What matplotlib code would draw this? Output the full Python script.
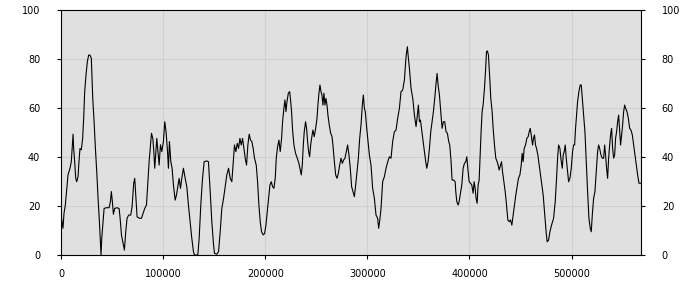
import matplotlib
matplotlib.use('Agg')
import matplotlib.pyplot as plt
import numpy as np

# x positions in thousands
x_k = [0, 1.96, 2.94, 4.25, 5.88, 6.86, 8.82, 10.1, 11.1, 11.8, 12.4, 13.4, 14.4, 15.4, 16.7, 17.6, 18.6,
       19.9, 21.2, 22.2, 23.2, 24.5, 25.8, 27.1, 28.4, 29.7, 31.1, 32.4, 33.7, 35.0, 36.3, 37.6, 38.6, 39.2,
       39.9, 40.9, 42.2, 44.4, 47.1, 48.4, 49.3, 50.3, 51.3, 52.6, 54.6, 56.9, 57.9, 59.2, 60.8, 62.1, 63.4,
       64.7, 66.3, 68.3, 69.6, 71.2, 72.2, 73.2, 74.5, 76.8, 78.8, 80.4, 82.0, 83.7, 85.0, 86.3, 87.6, 88.6,
       89.9, 90.9, 91.8, 93.8,
       96.1, 97.4, 98.7, 100.3, 101.6, 102.9, 104.3, 105.2, 106.2, 107.5, 108.8, 110.1, 111.8, 113.1, 114.4,
       115.7, 117.0, 118.3, 119.9, 121.6, 123.2, 124.8, 126.5, 128.1, 129.7, 130.7, 134.0, 135.3, 136.9,
       138.6, 140.2, 142.8, 144.4, 146.1, 147.7, 149.4, 150.3, 152.6, 154.3, 155.9, 157.5, 159.2, 160.8,
       162.4, 164.1, 165.7, 167.3, 169.0, 169.9, 171.3, 172.6, 173.9, 175.2, 176.5, 177.8, 179.1, 180.4,
       181.7, 183.0, 184.3, 185.6, 186.9, 188.2, 189.5,
       191.2, 192.5, 193.8, 195.1, 196.4, 198.0, 199.4, 200.7, 202.0, 203.3, 204.6, 205.9, 207.2, 208.5,
       209.8, 210.8, 212.1, 213.4, 214.7, 216.0, 217.0, 218.3, 219.3, 220.3, 221.3, 222.6, 223.9, 224.8,
       225.8, 226.8, 228.1, 229.7, 231.4, 233.0, 234.3, 235.3, 236.3, 237.3, 238.2, 239.5, 240.5, 241.5,
       242.5, 243.5, 244.5, 245.4, 246.7, 248.0, 249.4, 250.7, 251.6, 252.6, 253.6, 254.6, 255.6, 256.5,
       257.5, 258.5, 259.5, 260.5, 261.4, 262.7, 264.1, 265.4, 266.3, 267.7, 269.0, 270.3, 271.6, 272.9,
       274.2, 275.5, 276.8, 278.1, 279.4, 280.7, 282.0, 283.3, 284.6,
       287.3, 288.6, 289.9, 291.2, 292.5, 293.8, 295.1, 296.1, 297.1, 298.0, 299.4, 300.7, 302.0, 303.6,
       305.2, 306.9, 308.5, 310.1, 311.1, 312.4, 313.4, 315.0, 316.7, 318.3, 320.0, 321.6, 323.2, 324.8,
       326.5, 328.1, 329.7, 331.4, 333.0, 334.6, 336.3, 337.9, 339.2, 340.2, 341.2, 342.8, 344.5, 346.1,
       347.7, 349.0, 350.0, 351.0, 352.0, 353.0, 354.3, 355.9, 357.2, 358.2, 359.5, 360.8, 362.1, 363.4,
       364.7, 366.0, 367.3, 368.3, 369.3, 370.6, 371.9, 373.2, 374.5, 375.8, 377.1, 378.4, 379.7,
       380.7, 382.0, 383.0, 384.6, 386.0, 386.6, 387.6, 388.9, 389.9, 391.2, 392.5, 393.8, 395.1, 396.4,
       397.4, 398.4, 399.7, 401.0, 402.3, 403.6, 404.6, 405.6, 406.5, 407.5, 408.5, 409.5, 410.5, 411.4,
       412.4, 413.4, 414.7, 415.7, 416.7, 417.6, 418.6, 419.9, 420.9, 422.2, 423.2, 424.5, 425.8, 427.1,
       428.1, 429.1, 430.4, 431.4, 432.4, 433.7, 435.0, 436.3, 437.6, 438.9, 440.2, 441.5, 442.8, 444.1,
       445.4, 446.7, 448.0, 449.4, 450.7, 451.6, 452.6, 453.6, 454.9, 456.2, 457.5, 458.5, 459.5, 460.5,
       461.8, 462.7, 463.7, 464.7, 465.7, 467.0, 468.3, 469.6, 470.9, 472.2, 473.5,
       475.2, 476.1, 477.5, 478.8, 480.4, 482.4, 484.0, 485.3, 486.3, 487.3, 488.6, 489.5, 490.9, 491.8,
       492.8, 493.8, 494.8, 496.1, 497.1, 498.4, 499.7, 501.0, 502.0, 503.0, 503.9, 504.9, 505.9, 507.2,
       508.5, 509.5, 510.5, 511.8, 513.1, 514.4, 515.7, 517.0, 518.3, 519.3, 520.3, 521.6, 522.9, 524.2,
       525.5, 526.5, 527.5, 528.8, 530.1, 531.4, 532.4, 533.3, 534.3, 535.3, 536.3, 537.3, 538.2, 539.2,
       540.2, 541.2, 542.2, 543.1, 544.1, 545.1, 546.1, 547.1, 548.0, 549.0, 550.0, 551.0, 552.0, 552.9,
       554.3, 555.6, 556.9, 558.2, 559.5, 560.8, 562.1, 563.4, 564.7, 566.0, 568.0]

values = [16.3, 10.9, 17, 20.4, 27.9, 32.7, 35.4, 38.1, 44.9, 49.3, 43.5, 38.1, 31.3, 29.9, 32, 38.1, 43.5,
          42.9, 47.6, 55.8, 66.7, 73.5, 78.9, 81.6, 81.6, 80.3, 63.9, 54.4, 43.5, 34, 23.1, 13.6, 4.8, 0,
          6.8, 12.2, 19, 19.3, 19.3, 21.8, 25.9, 21.8, 16.6, 19, 19.3, 19, 15, 8.2, 4.8, 2, 9.5,
          15, 16.3, 16.3, 19.7, 29.3, 31.3, 24.5, 15.6, 15, 15, 17, 19, 20.4, 29.3, 38.1, 44.9, 49.7,
          47.6, 42.2, 35.4, 47.6,
          36.7, 45, 42.2, 46.3, 54.4, 50.3, 42.2, 35.4, 46.3, 38.1, 35.4, 28.6, 22.4, 24.5, 27.9,
          31.3, 27.2, 31.3, 35.4, 31.3, 27.9, 20.4, 13.6, 6.8, 1.4, 0, 0, 6.8, 20.4,
          31.3, 38.1, 38.4, 38.1, 25.9, 13.6, 4.1, 0.7, 0.3, 1.4, 9.5, 19, 23.1, 27.9,
          32.7, 35.4, 31.3, 29.9, 39.5, 44.9, 42.2, 45.6, 43.5, 47.6, 44.9, 47.6, 43.5, 39.5,
          36.7, 44.9, 49.3, 46.9, 46.3, 43.5, 39.5,
          36.7, 29.9, 20.4, 13.6, 9.5, 8.2, 8.8, 12.2, 17.7, 23.1, 28.6, 29.9, 27.9, 27.2,
          31.3, 39.5, 44.2, 46.9, 42.2, 47.6, 54.4, 59.9, 63.3, 58.5, 62.6, 66, 66.7, 63.3,
          58.5, 51, 44.9, 41.5, 39.5, 37.4, 34.7, 32.7, 36.7, 44.9, 50.3, 54.4, 51.7, 46.3,
          42.2, 40.1, 44.9, 47.6, 51, 48.3, 51.7, 55.8, 61.2, 66, 69.4, 66.7, 65.3, 61.2,
          66, 61.2, 63.9, 61.2, 57.1, 53.1, 49.7, 48.3, 44.9, 38.1, 32.7, 31.3, 33.3, 36.7,
          39.5, 37.4, 38.8, 39.5, 42.2, 44.9, 40.8, 35.4, 27.9,
          23.8, 28.6, 34, 39.5, 47.6, 53.1, 61.2, 65.3, 59.9, 58.5, 51.7, 46.3, 40.8, 36.7,
          27.2, 23.1, 16.3, 15, 10.9, 15, 19, 29.9, 32, 35.4, 38.1, 40.1, 39.5, 46.3,
          50.3, 51, 55.8, 59.9, 66.7, 67.3, 71.4, 81, 85, 80.3, 76.2, 68, 63.9, 57.1,
          52.4, 57.1, 61.2, 54.4, 55.1, 51.7, 47.6, 42.2, 38.1, 35.4, 38.1, 43.5, 50.3, 54.4,
          58.5, 63.9, 70.1, 74.1, 69.4, 65.3, 58.5, 51.7, 54.4, 54.4, 50.3, 49.7, 46.3,
          44.9, 38.1, 30.6, 30.6, 29.9, 25.9, 21.8, 20.4, 21.8, 25.2, 28.6, 35.4, 37.4, 38.1,
          40.1, 35.4, 29.9, 29.3, 28.6, 25.2, 29.9, 27.2, 23.1, 21.1, 28.6, 30.6, 40.8, 50.3,
          58.5, 61.2, 68, 74.8, 83, 83.3, 81.6, 72.1, 63.9, 58.5, 51.7, 44.9, 39.5, 38.1,
          36.7, 34.7, 36.7, 38.1, 34, 29.9, 25.9, 20.4, 14.3, 13.6, 14.3, 12.2, 16.3, 20.4,
          24.5, 27.9, 31.3, 32.7, 36.7, 41.5, 38.1, 43.5, 44.9, 47.6, 48.3, 50.3, 51.7, 49,
          44.9, 47.6, 49, 44.9, 43.5, 40.8, 36.7, 32.7, 28.6, 24.5, 17.7,
          8.8, 5.4, 6.1, 9.5, 12.2, 15, 21.8, 31.3, 39.5, 44.9, 43.5, 39.5, 35.4, 40.8,
          42.2, 44.9, 39.5, 34, 29.9, 31.3, 35.4, 42.2, 44.9, 44.9, 51.7, 57.1, 62.6, 66.7,
          69.4, 69.4, 63.9, 57.1, 50.3, 38.1, 25.9, 15, 10.9, 9.5, 16.3, 23.1, 25.9, 34,
          42.2, 44.9, 43.5, 40.8, 39.5, 39.5, 44.9, 40.8, 35.4, 31.3, 39.5, 44.9, 49, 51.7,
          43.5, 39.5, 40.8, 47.6, 50.3, 54.4, 57.1, 50.3, 44.9, 49, 53.1, 58.5, 61.2, 59.9,
          58.5, 55.8, 51.7, 51, 49, 44.9, 40.8, 36.7, 32.7, 29.3, 29.3]

x = np.array(x_k) * 1000

fig = plt.figure(figsize=(7, 3), dpi=100)
ax = fig.add_axes([61 / 700, 45 / 300, 580 / 700, 245 / 300])
ax.set_facecolor('#e0e0e0')
ax.plot(x, values, color='black', linewidth=0.8)

ax.set_xlim(0, 568000)
ax.set_ylim(0, 100)
ax.set_xticks([0, 100000, 200000, 300000, 400000, 500000])
ax.set_yticks([0, 20, 40, 60, 80, 100])
ax.grid(True, color='#d0d0d0', linewidth=0.8)
ax.set_axisbelow(True)

for s in ax.spines.values():
    s.set_color('black')
    s.set_linewidth(0.8)

ax.tick_params(axis='both', direction='out', length=3, width=0.8, labelsize=7, colors='black')
ax.tick_params(axis='y', right=True, labelright=True, pad=12)
ax.tick_params(axis='x', pad=7)

plt.savefig('out.png', dpi=100)
